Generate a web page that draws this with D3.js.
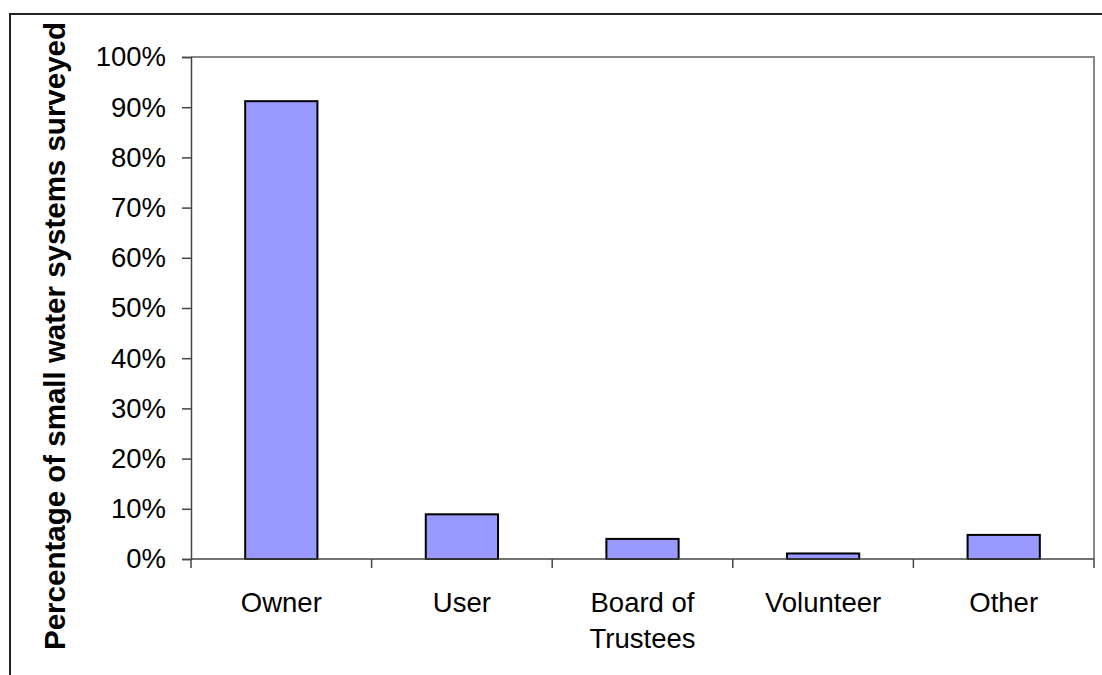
<!DOCTYPE html>
<html>
<head>
<meta charset="utf-8">
<script src="https://cdn.jsdelivr.net/npm/d3@7"></script>
<style>
  body { margin: 0; background: #fff; }
  svg { display: block; font-family: Arial, "Liberation Sans", sans-serif; }
</style>
</head>
<body>
<div id="chart"></div>
<script>
// who operates the small water systems surveyed
let categories = ['Owner', 'User', 'Board of\nTrustees', 'Volunteer', 'Other']
let values = [91.2, 8.9, 4.0, 1.1, 4.8]
let yTicks = [0, 10, 20, 30, 40, 50, 60, 70, 80, 90, 100]
let yTitle = 'Percentage of small water systems surveyed'

let width = 1102, height = 675
let margin = {left: 191, top: 57, right: 8, bottom: 116}

let svg = d3.select('#chart').append('svg')
    .attr('width', width)
    .attr('height', height)

// outer chart border (runs off the right and bottom of the picture)
svg.append('rect')
    .attr('x', 10).attr('y', 14)
    .attr('width', 1200).attr('height', 800)
    .attr('fill', 'none')
    .attr('stroke', '#222')
    .attr('stroke-width', 2)

let x = d3.scaleBand()
    .domain(categories)
    .range([margin.left, width - margin.right])
    .paddingInner(0.6)
    .paddingOuter(0.3)

let y = d3.scaleLinear()
    .domain([0, 100])
    .range([height - margin.bottom, margin.top])

let plotRight = width - margin.right
let plotBottom = height - margin.bottom

// plot area frame, top and right in grey
svg.append('path')
    .attr('d', `M${margin.left},${margin.top}H${plotRight}V${plotBottom}`)
    .attr('fill', 'none')
    .attr('stroke', '#888')
    .attr('stroke-width', 2)

// bars
svg.selectAll('.bar')
    .data(values)
    .enter()
    .append('rect')
    .attr('class', 'bar')
    .attr('x', (d, i) => x(categories[i]))
    .attr('y', d => y(d))
    .attr('width', x.bandwidth())
    .attr('height', d => y(0) - y(d))
    .attr('fill', '#9999FF')
    .attr('stroke', '#000')
    .attr('stroke-width', 2)

// y axis
let yAxis = svg.append('g')
    .attr('transform', `translate(${margin.left},0)`)
    .call(d3.axisLeft(y).tickValues(yTicks).tickFormat(d => d + '%').tickSize(9).tickPadding(16))
yAxis.select('.domain').attr('stroke', '#444').attr('stroke-width', 1.5)
yAxis.selectAll('.tick line').attr('stroke', '#444').attr('stroke-width', 1.5)
yAxis.selectAll('.tick text')
    .attr('font-size', 27.5)
    .attr('font-family', 'Arial, "Liberation Sans", sans-serif')
    .attr('fill', '#000')

// x axis: ticks sit between the categories
let step = x.step()
let boundaries = d3.range(categories.length + 1).map(i => margin.left + i * (plotRight - margin.left) / categories.length)
let xAxis = svg.append('g')
xAxis.append('line')
    .attr('x1', margin.left).attr('x2', plotRight)
    .attr('y1', plotBottom).attr('y2', plotBottom)
    .attr('stroke', '#444').attr('stroke-width', 1.5)
xAxis.selectAll('.xtick')
    .data(boundaries)
    .enter()
    .append('line')
    .attr('class', 'xtick')
    .attr('x1', d => d).attr('x2', d => d)
    .attr('y1', plotBottom).attr('y2', plotBottom + 9)
    .attr('stroke', '#444').attr('stroke-width', 1.5)

let xLabels = xAxis.selectAll('.xlabel')
    .data(categories)
    .enter()
    .append('text')
    .attr('class', 'xlabel')
    .attr('x', d => x(d) + x.bandwidth() / 2)
    .attr('y', plotBottom + 53)
    .attr('text-anchor', 'middle')
    .attr('font-size', 27.5)
    .attr('fill', '#000')
xLabels.each(function(d) {
    let lines = d.split('\n')
    d3.select(this).selectAll('tspan')
        .data(lines)
        .enter()
        .append('tspan')
        .attr('x', x(d) + x.bandwidth() / 2)
        .attr('dy', (l, i) => i === 0 ? 0 : 36)
        .text(l => l)
})

// y axis title
svg.append('text')
    .attr('transform', 'translate(65,336) rotate(-90)')
    .attr('text-anchor', 'middle')
    .attr('font-size', 29.5)
    .attr('font-weight', 'bold')
    .attr('fill', '#000')
    .text(yTitle)
</script>
</body>
</html>
